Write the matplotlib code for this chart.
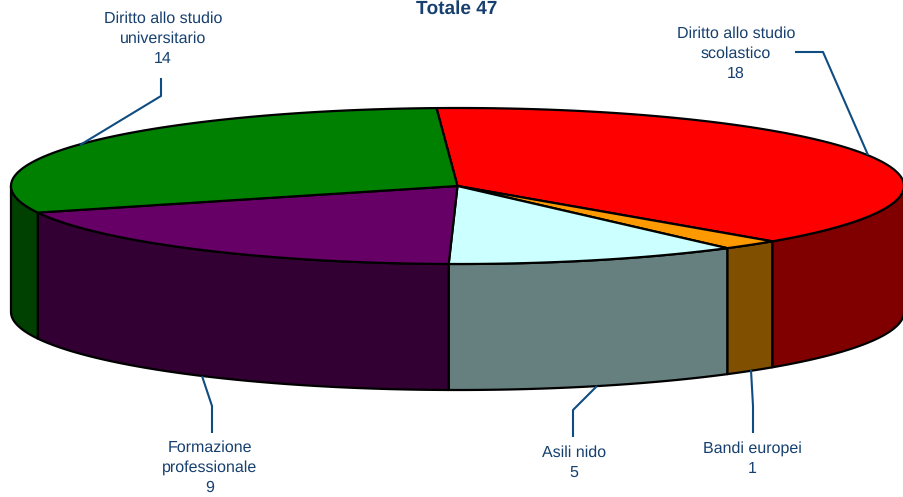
import numpy as np
import matplotlib
matplotlib.use("Agg")
import matplotlib.pyplot as plt
from matplotlib.patches import Polygon

categories = ["Diritto allo studio\nscolastico", "Bandi europei", "Asili nido",
              "Formazione\nprofessionale", "Diritto allo studio\nuniversitario"]
values = [18, 1, 5, 9, 14]
top_colors = ["#FF0000", "#FF9900", "#CCFFFF", "#660066", "#008000"]
side_colors = ["#800000", "#805000", "#668080", "#330033", "#004000"]
total_title = "Totale 47"

CX, CY, RX, RY, DEPTH = 457.5, 186, 446.5, 78, 126
START = 92.7
EDGE = "#000000"
LEADER = "#0F4C81"
TEXT = "#17406F"

label_pos = [(736, 54), (752, 459), (574, 463), (210, 468), (163, 39)]
leaders = [[(795, 52), (823, 52), (868, 155)],
           [(753, 433), (753, 406), (751, 370)],
           [(573, 437), (573, 410), (597, 386)],
           [(212, 433), (212, 406), (202, 376)],
           [(161, 78), (161, 96), (80, 145)]]

plt.rcParams["font.family"] = ["Liberation Sans", "DejaVu Sans"]
plt.rcParams["text.hinting"] = "no_hinting"
plt.rcParams["text.hinting_factor"] = 1
fig = plt.figure(figsize=(9.04, 4.97), dpi=100, facecolor="white")
ax = fig.add_axes([0, 0, 1, 1])
ax.set_xlim(0, 904)
ax.set_ylim(497, 0)
ax.axis("off")


def pt(t):
    r = np.radians(t)
    return CX + RX * np.cos(r), CY - RY * np.sin(r)


def arc(t0, t1, dy=0):
    ts = np.linspace(t0, t1, max(int(abs(t1 - t0) * 4), 2))
    x, y = pt(ts)
    return np.column_stack([x, y + dy])


lw = 1.6
angles = START - np.concatenate([[0], np.cumsum(values)]) / sum(values) * 360

# side walls (visible front half only)
for i in range(len(values)):
    a0, a1 = angles[i], angles[i + 1]
    for lo, hi in [(0, -180), (-360, -540)]:
        s, e = min(a0, lo), max(a1, hi)
        if s > e:
            poly = np.vstack([arc(s, e), arc(e, s, DEPTH)])
            ax.add_patch(Polygon(poly, closed=True, fc=side_colors[i], ec=EDGE,
                                 lw=lw, joinstyle="round", zorder=2))

# top faces
for i in range(len(values)):
    poly = np.vstack([[(CX, CY)], arc(angles[i], angles[i + 1])])
    ax.add_patch(Polygon(poly, closed=True, fc=top_colors[i], ec=EDGE,
                         lw=lw, joinstyle="round", zorder=3))

# leader lines and labels
for name, val, (lx, ly), seg in zip(categories, values, label_pos, leaders):
    xs, ys = zip(*seg)
    ax.plot(xs, ys, color=LEADER, lw=1.5, zorder=4, solid_capstyle="butt")
    ax.text(lx, ly, f"{name}\n{val}", ha="center", va="center",
            fontsize=11.2, color=TEXT, linespacing=1.45, zorder=5, multialignment="center")

ax.text(456.5, 8.5, total_title, ha="center", va="center", fontsize=13.8,
        fontweight="bold", color=TEXT, zorder=5)

fig.savefig("out.png", dpi=100, facecolor="white")
